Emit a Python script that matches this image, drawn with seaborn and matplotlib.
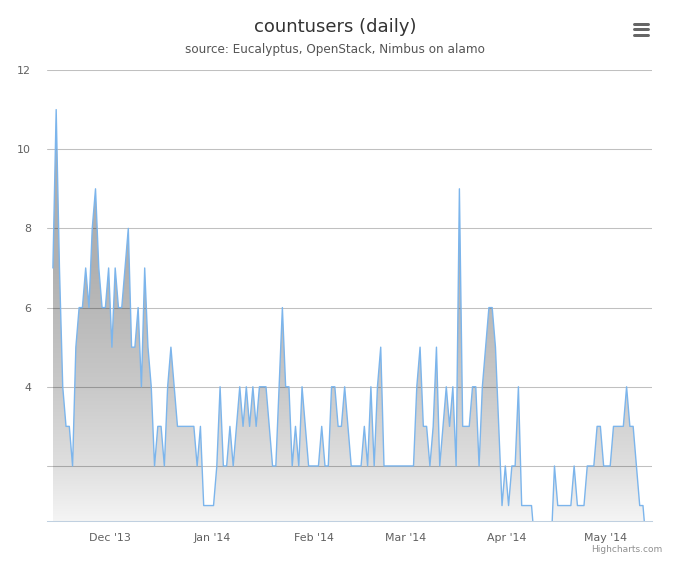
import numpy as np
import pandas as pd
import matplotlib
matplotlib.use("Agg")
import matplotlib.pyplot as plt
import matplotlib.dates as mdates
from matplotlib.lines import Line2D
import seaborn as sns

# ---- data ----
start_date = "2013-11-13 12:00"
users = [
    7, 11, 7, 4, 3, 3, 2, 5, 6, 6,
    7, 6, 8, 9, 7, 6, 6, 7, 5, 7,
    6, 6, 7, 8, 5, 5, 6, 4, 7, 5,
    4, 2, 3, 3, 2, 4, 5, 4, 3, 3,
    3, 3, 3, 3, 2, 3, 1, 1, 1, 1,
    2, 4, 2, 2, 3, 2, 3, 4, 3, 4,
    3, 4, 3, 4, 4, 4, 3, 2, 2, 4,
    6, 4, 4, 2, 3, 2, 4, 3, 2, 2,
    2, 2, 3, 2, 2, 4, 4, 3, 3, 4,
    3, 2, 2, 2, 2, 3, 2, 4, 2, 4,
    5, 2, 2, 2, 2, 2, 2, 2, 2, 2,
    2, 4, 5, 3, 3, 2, 3, 5, 2, 3,
    4, 3, 4, 2, 9, 3, 3, 3, 4, 4,
    2, 4, 5, 6, 6, 5, 3, 1, 2, 1,
    2, 2, 4, 1, 1, 1, 1, 0, 0, 0,
    0, 0, 0, 2, 1, 1, 1, 1, 1, 2,
    1, 1, 1, 2, 2, 2, 3, 3, 2, 2,
    2, 3, 3, 3, 3, 4, 3, 3, 2, 1,
    1, 0,
]
y_ticks = [2, 4, 6, 8, 10, 12]
y_tick_labels = ["", "4", "6", "8", "10", "12"]
month_ticks = ["2013-12-01", "2014-01-01", "2014-02-01", "2014-03-01", "2014-04-01", "2014-05-01"]
month_labels = ["Dec '13", "Jan '14", "Feb '14", "Mar '14", "Apr '14", "May '14"]
title = "countusers (daily)"
subtitle = "source: Eucalyptus, OpenStack, Nimbus on alamo"
credit = "Highcharts.com"

dates = pd.date_range(start_date, periods=len(users), freq="D")
df = pd.DataFrame({"date": dates, "users": users})

sns.set_style("white")
plt.rcParams["font.family"] = ["DejaVu Sans"]

W, H = 680, 566
fig = plt.figure(figsize=(W / 100, H / 100), dpi=100)
ax = fig.add_axes([47 / W, 1 - 521 / H, (652 - 47) / W, (521 - 70) / H])

sns.lineplot(data=df, x="date", y="users", ax=ax, color="#7cb5ec",
             linewidth=1.0, zorder=3)

# gradient area fill
poly = ax.fill_between(df["date"], df["users"], 0, facecolor="none",
                       edgecolor="none")
x0 = mdates.date2num(dates[0])
x1 = mdates.date2num(dates[-1])
vals = np.linspace(0, 12, 500)
alpha = np.interp(vals, [0, 0.7, 2, 4, 6, 7, 11, 12],
                  [0.0, 0.05, 0.13, 0.216, 0.28, 0.31, 0.33, 0.34])
img = np.zeros((len(vals), 1, 4))
img[..., 3] = alpha[:, None]
im = ax.imshow(img, extent=[x0, x1, 0, 12], origin="lower", aspect="auto",
               zorder=1.5, interpolation="bilinear")
im.set_clip_path(poly.get_paths()[0], transform=ax.transData)

ax.set_ylim(0.61, 12)
may1 = pd.Timestamp("2014-05-01")
ax.set_xlim(may1 - pd.Timedelta(days=170.3), may1 + pd.Timedelta(days=14.25))

ax.set_yticks(y_ticks)
ax.set_yticklabels(y_tick_labels)
ax.set_xticks(pd.to_datetime(month_ticks))
ax.set_xticklabels(month_labels)
ax.set_xlabel("")
ax.set_ylabel("")

ax.set_axisbelow(True)
ax.grid(axis="y", color="#C0C0C0", linewidth=0.75)
ax.grid(axis="x", visible=False)
for s in ["top", "left", "right"]:
    ax.spines[s].set_visible(False)
ax.spines["bottom"].set_color("#C0D0E0")
ax.spines["bottom"].set_linewidth(0.75)
ax.spines["bottom"].set_zorder(4)

ax.tick_params(axis="x", length=7.2, width=0.75, color="#C0D0E0",
               labelsize=7.9, labelcolor="#606060", pad=1.5)
ax.tick_params(axis="y", length=0, labelsize=7.9, labelcolor="#606060",
               pad=11.5)

fig.text(335 / W, 1 - 27 / H, title, ha="center", va="center",
         fontsize=13, color="#333333")
fig.text(335 / W, 1 - 50 / H, subtitle, ha="center", va="center",
         fontsize=8.64, color="#555555")
fig.text(662 / W, 1 - 549 / H, credit, ha="right", va="center",
         fontsize=6.5, color="#909090")

for yy in [23.5, 29, 34.5]:
    fig.add_artist(Line2D([634 / W, 648 / W], [1 - yy / H] * 2,
                          color="#666666", lw=2.16, solid_capstyle="round"))

fig.savefig("out.png", dpi=100)
